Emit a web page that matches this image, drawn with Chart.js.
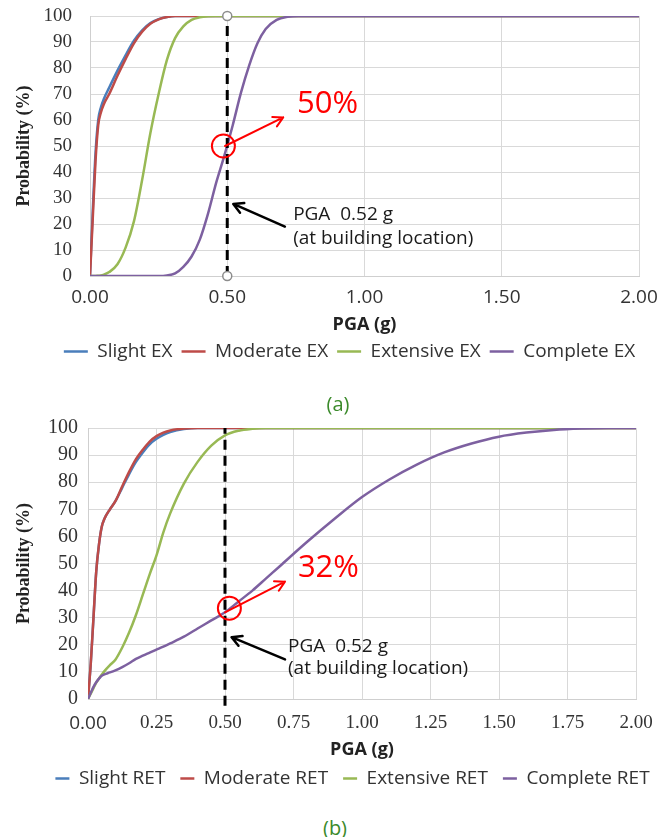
<!DOCTYPE html>
<html>
<head>
<meta charset="utf-8">
<script src="https://cdn.jsdelivr.net/npm/chart.js@4.4.1/dist/chart.umd.min.js"></script>
<style>
  html, body { margin: 0; padding: 0; background: #fff; }
  body { width: 670px; height: 837px; position: relative; overflow: hidden; }
  .panel { position: absolute; left: 0; }
  .cap { position: absolute; font-family: 'Open Sans', sans-serif; font-size: 20px; color: #3b8a2b; transform: translate(-50%, -50%); }
</style>
</head>
<body>
<div class="panel" style="top:0"><canvas id="chartA" width="670" height="371"></canvas></div>
<div class="panel" style="top:400px"><canvas id="chartB" width="670" height="398"></canvas></div>
<div class="cap" style="left:338px; top:403px">(a)</div>
<div class="cap" style="left:335px; top:827px">(b)</div>
<script>
// (a) EX fragility curves - PGA (g) vs probability (%)
const pgaA = [0, 0.01, 0.02, 0.03, 0.04, 0.05, 0.07, 0.10, 0.13, 0.16, 0.19, 0.22, 0.25, 0.28, 0.31, 0.34, 0.37,
  0.40, 0.43, 0.46, 0.49, 0.52, 0.55, 0.58, 0.61, 0.64, 0.68, 0.72, 0.76, 0.80, 1.00, 1.50, 2.00];
const slightEx = [0, 25, 47, 60, 65, 68, 72.5, 79, 85, 90.5, 94.5, 97.3, 98.8, 99.6, 100, 100, 100,
  100, 100, 100, 100, 100, 100, 100, 100, 100, 100, 100, 100, 100, 100, 100, 100];
const moderateEx = [0, 22, 44, 58, 63, 66, 70, 77, 83.5, 89.5, 94, 97, 98.7, 99.6, 100, 100, 100,
  100, 100, 100, 100, 100, 100, 100, 100, 100, 100, 100, 100, 100, 100, 100, 100];
const extensiveEx = [0, 0, 0, 0.1, 0.2, 0.5, 1.5, 4.5, 11, 21, 37, 55, 70, 83, 91.5, 96, 98.5,
  99.5, 99.9, 100, 100, 100, 100, 100, 100, 100, 100, 100, 100, 100, 100, 100, 100];
const completeEx = [0, 0, 0, 0, 0, 0, 0, 0, 0, 0, 0, 0, 0, 0.2, 1, 3.5, 7.5,
  14, 24, 36, 46.5, 58, 70.5, 81, 89.5, 95, 98.5, 99.7, 100, 100, 100, 100, 100];

// (b) RET fragility curves
const pgaB = [0, 0.01, 0.02, 0.03, 0.04, 0.05, 0.06, 0.08, 0.10, 0.125, 0.15, 0.175, 0.20, 0.225, 0.25, 0.275, 0.30,
  0.35, 0.40, 0.45, 0.50, 0.55, 0.60, 0.65, 0.70, 0.80, 0.90, 1.00, 1.10, 1.20, 1.30, 1.40, 1.50, 1.60, 1.70, 1.80, 1.90, 2.00];
const slightRet = [0, 13, 30, 47, 57, 63.5, 66.5, 70, 73, 78, 83, 87.5, 91, 94, 96, 97.5, 98.5,
  99.6, 100, 100, 100, 100, 100, 100, 100, 100, 100, 100, 100, 100, 100, 100, 100, 100, 100, 100, 100, 100];
const moderateRet = [0, 13, 30, 47, 57, 63.5, 66.5, 70, 73, 78.5, 83.8, 88.5, 92, 95, 97, 98.3, 99.1,
  99.8, 100, 100, 100, 100, 100, 100, 100, 100, 100, 100, 100, 100, 100, 100, 100, 100, 100, 100, 100, 100];
const extensiveRet = [0, 2, 4, 6, 7.5, 9, 10.3, 12.5, 14.5, 19, 24.5, 31, 38.5, 46, 53, 61.5, 68.5,
  79.5, 87.5, 93.5, 97.3, 99, 99.7, 100, 100, 100, 100, 100, 100, 100, 100, 100, 100, 100, 100, 100, 100, 100];
const completeRet = [0, 2.3, 4.5, 6.2, 7.5, 8.6, 9.1, 9.8, 10.6, 11.8, 13.2, 14.8, 16.0, 17.1, 18.2, 19.3, 20.5,
  23, 26, 29, 32, 36, 40, 44.5, 49, 58, 66.5, 74.5, 81, 86.5, 91, 94.3, 96.8, 98.3, 99.3, 99.8, 100, 100];

const labelsA = ['Slight EX', 'Moderate EX', 'Extensive EX', 'Complete EX'];
const labelsB = ['Slight RET', 'Moderate RET', 'Extensive RET', 'Complete RET'];
const xTicksA = ['0.00', '0.50', '1.00', '1.50', '2.00'];
const xTicksB = ['0.00', '0.25', '0.50', '0.75', '1.00', '1.25', '1.50', '1.75', '2.00'];
const sitePga = 0.5;   // building location marker
const probA = 50, probB = 32;

const colors = ['#4a7ebb', '#be4b48', '#98b954', '#7d60a0'];

function curve(label, xs, ys, i) {
  return {
    label, data: xs.map((x, k) => ({x, y: ys[k]})),
    borderColor: colors[i], backgroundColor: colors[i], borderWidth: 2.5,
    pointRadius: 0, cubicInterpolationMode: 'monotone', order: 4 - i
  };
}

function arrow(ctx, a, b, color, w) {
  const ang = Math.atan2(b[1] - a[1], b[0] - a[0]);
  ctx.strokeStyle = color; ctx.lineWidth = w; ctx.lineCap = 'round';
  ctx.beginPath();
  ctx.moveTo(a[0], a[1]); ctx.lineTo(b[0], b[1]);
  for (const s of [-1, 1]) {
    ctx.moveTo(b[0], b[1]);
    ctx.lineTo(b[0] - 11 * Math.cos(ang + s * 0.5), b[1] - 11 * Math.sin(ang + s * 0.5));
  }
  ctx.stroke();
}

// red circle, arrows and notes, placed in data coordinates
const fragilityMarks = {
  id: 'fragilityMarks',
  afterDatasetsDraw(chart, args, o) {
    const {ctx, scales: {x, y}} = chart;
    const px = p => [x.getPixelForValue(p[0]), y.getPixelForValue(p[1])];
    ctx.save();
    const c = px(o.circle);
    ctx.strokeStyle = '#ff0000'; ctx.lineWidth = 2;
    ctx.beginPath(); ctx.arc(c[0], c[1], 11.5, 0, Math.PI * 2); ctx.stroke();
    arrow(ctx, px(o.redFrom), px(o.redTo), '#ff0000', 2);
    arrow(ctx, px(o.blackFrom), px(o.blackTo), '#000000', 2.5);
    ctx.textAlign = 'left'; ctx.textBaseline = 'middle';
    ctx.fillStyle = '#ff0000'; ctx.font = '31px "Open Sans"';
    const t = px(o.pctAt); ctx.fillText(o.pctText, t[0], t[1]);
    ctx.fillStyle = '#1a1a1a'; ctx.font = '19px "Open Sans"';
    const n1 = px(o.note1At), n2 = px(o.note2At);
    ctx.fillText('PGA  0.52 g', n1[0], n1[1]);
    ctx.fillText('(at building location)', n2[0], n2[1]);
    ctx.restore();
  }
};

// move the legend row sideways (it is centred under the whole figure, not the plot)
const legendShift = {
  id: 'legendShift',
  afterLayout(chart, args, o) {
    if (chart.legend) { chart.legend.left += o.dx; chart.legend.right += o.dx; }
  }
};

function baseOptions(p) {
  return {
    responsive: false, animation: false,
    layout: {padding: {left: 0, right: p.padR, top: p.padT, bottom: 0}},
    scales: {
      x: {
        type: 'linear', min: 0, max: 2,
        afterFit: s => { s.height = p.xH; s.paddingLeft = 0; s.paddingRight = 0; },
        grid: {color: '#d9d9d9', drawTicks: false},
        border: {color: '#cfcfcf'},
        ticks: {stepSize: p.step, autoSkip: false, maxRotation: 0, padding: p.xPad, color: '#333',
          font: p.xFont, callback: (v, i) => p.xTicks[i]},
        title: {display: true, text: 'PGA (g)', color: '#222', padding: {top: 0, bottom: 0},
          font: {family: 'Open Sans', size: 18, weight: 'bold', lineHeight: p.titleLh}}
      },
      y: {
        min: 0, max: 100,
        afterFit: s => { s.width = p.yW; s.paddingTop = 0; s.paddingBottom = 0; },
        grid: {color: '#d9d9d9', drawTicks: false},
        border: {color: '#cfcfcf'},
        ticks: {stepSize: 10, padding: p.yPad, color: '#333',
          font: {family: 'Liberation Serif', size: p.ySize}},
        title: {display: true, text: 'Probability (%)', color: '#222', padding: {top: 14, bottom: 0},
          font: {family: 'Liberation Serif', size: 18, weight: 'bold'}}
      }
    },
    plugins: {
      tooltip: {enabled: false},
      legend: {
        position: 'bottom',
        labels: {
          usePointStyle: true, pointStyle: 'line', pointStyleWidth: p.markW,
          font: {family: 'Open Sans', size: 19}, color: '#333', padding: p.legPad,
          filter: it => it.datasetIndex < 4,
          sort: (a, b) => a.datasetIndex - b.datasetIndex
        }
      },
      legendShift: {dx: p.legDx},
      fragilityMarks: p.marks
    }
  };
}

new Chart(document.getElementById('chartA'), {
  type: 'line',
  data: {
    datasets: [
      curve(labelsA[0], pgaA, slightEx, 0),
      curve(labelsA[1], pgaA, moderateEx, 1),
      curve(labelsA[2], pgaA, extensiveEx, 2),
      curve(labelsA[3], pgaA, completeEx, 3),
      {
        label: 'site', data: [{x: sitePga, y: 0}, {x: sitePga, y: 100}],
        borderColor: '#000', borderWidth: 3, borderDash: [10, 6], clip: false, order: 0,
        pointRadius: 4.5, pointBackgroundColor: '#fff', pointBorderColor: '#8c8c8c', pointBorderWidth: 1.5
      }
    ]
  },
  options: baseOptions({
    padR: 31, padT: 16, xH: 57, titleLh: 16 / 18, step: 0.5, xPad: 10, xTicks: xTicksA,
    xFont: {family: 'Open Sans', size: 19},
    yW: 90, yPad: 18, ySize: 19, markW: 24, legPad: 9, legDx: 30,
    marks: {
      circle: [0.486, probA], redFrom: [0.492, probA], redTo: [0.704, 61],
      blackFrom: [0.71, 19], blackTo: [0.522, 27.7],
      pctAt: [0.754, 66.2], pctText: probA + '%',
      note1At: [0.74, 23.5], note2At: [0.74, 14.2]
    }
  }),
  plugins: [fragilityMarks, legendShift]
});

new Chart(document.getElementById('chartB'), {
  type: 'line',
  data: {
    datasets: [
      curve(labelsB[0], pgaB, slightRet, 0),
      curve(labelsB[1], pgaB, moderateRet, 1),
      curve(labelsB[2], pgaB, extensiveRet, 2),
      curve(labelsB[3], pgaB, completeRet, 3),
      {
        label: 'site', data: [{x: sitePga, y: -2.5}, {x: sitePga, y: 100}],
        borderColor: '#000', borderWidth: 3, borderDash: [10, 6], clip: false, order: 0, pointRadius: 0
      }
    ]
  },
  options: baseOptions({
    padR: 34, padT: 28, xH: 55, titleLh: 0.5, step: 0.25, xPad: 13, xTicks: xTicksB,
    xFont: ctx => ctx.index === 0 ? {family: 'Open Sans', size: 19} : {family: 'Liberation Serif', size: 19},
    yW: 88, yPad: 10, ySize: 20, markW: 14, legPad: 15, legDx: 34.5,
    marks: {
      circle: [0.516, 33.5], redFrom: [0.5, probB], redTo: [0.719, 43.3],
      blackFrom: [0.719, 14.6], blackTo: [0.524, 22.8],
      pctAt: [0.766, 48.3], pctText: probB + '%',
      note1At: [0.73, 19.2], note2At: [0.73, 11.3]
    }
  }),
  plugins: [fragilityMarks, legendShift]
});
</script>
</body>
</html>
